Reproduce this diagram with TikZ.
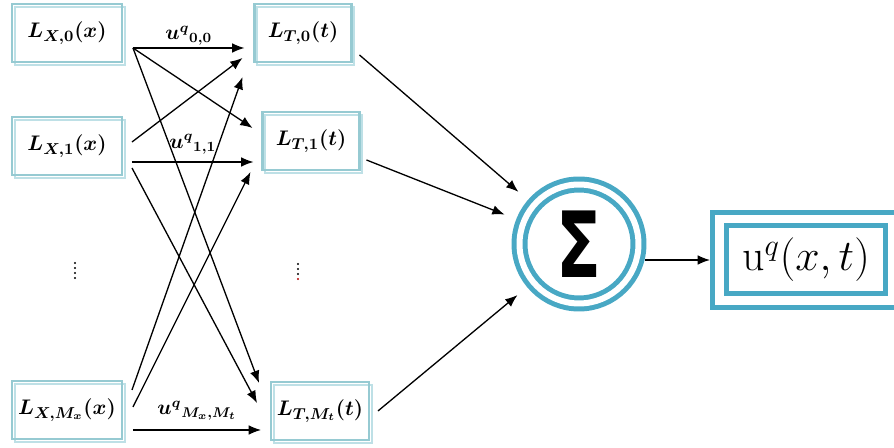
\documentclass[tikz,border=0pt]{standalone}
\usepackage{fontspec}
\usepackage{amsmath}
\usetikzlibrary{arrows.meta, calc}
\newfontfamily\sigmafont{DejaVu Sans}

\definecolor{boxedge}{RGB}{150,202,210}
\definecolor{boxshade}{RGB}{190,224,230}
\definecolor{ringblue}{RGB}{72,168,196}

\tikzstyle{basis} = [rectangle, minimum height=1.16cm, text centered, draw=boxedge, line width=1.2pt, outer sep=0pt, font=\boldmath\fontsize{13}{15}\selectfont, preaction={draw=boxshade, line width=1.2pt, transform canvas={shift={(1.6pt,-1.6pt)}}}]
\tikzstyle{xbasis} = [basis, minimum width=2.2cm]
\tikzstyle{tbasis} = [basis, minimum width=1.94cm]
\tikzstyle{arrow} = [line width=0.75pt, -{Latex[length=7pt, width=5.5pt]}]
\tikzstyle{weight} = [font=\boldmath\large, inner sep=1pt]

\begin{document}
\begin{tikzpicture}[x=0.02cm, y=-0.02cm]
\useasboundingbox (0,0) rectangle (894,448);
\clip (0,0) rectangle (894,448);

% basis functions in x
\node (lx0) [xbasis] at (67,33) {$L_{X,0}(x)$};
\node (lx1) [xbasis] at (67,146) {$L_{X,1}(x)$};
\node (lxm) [xbasis] at (67,410) {$L_{X,M_x}(x)$};

% basis functions in t
\node (lt0) [tbasis] at (303,33) {$L_{T,0}(t)$};
\node (lt1) [tbasis] at (311,141) {$L_{T,1}(t)$};
\node (ltm) [tbasis] at (320,411) {$L_{T,M_t}(t)$};

% summation and result
\node (sum) [circle, draw=ringblue, line width=0.1cm, double=white, double distance=0.12cm, minimum size=2.38cm, inner sep=0pt, outer sep=0.41cm] at (579,244) {\sigmafont\bfseries\fontsize{52}{52}\selectfont\scalebox{0.72}[1]{Σ}};
\node (uout) [rectangle, draw=ringblue, line width=0.1cm, double=white, double distance=0.18cm, minimum width=3.46cm, minimum height=1.64cm, inner sep=0pt, outer sep=0.19cm] at (806,260) {\fontsize{25}{30}\selectfont $\mathrm{u}^{q}(x,t)$};

% dots between the rows
\foreach \y in {263,268,273,278} \fill (75,\y) circle (1.1);
\foreach \y in {264,269,274} \fill (298,\y) circle (1.1);
\fill[red!70!black] (298,279) circle (1.2);

% weights x -> t
\draw [arrow] ($(lx0.east)+(11,15)$) -- node[weight, above] {${u^{q}}_{0,0}$} ($(lt0.west)+(-10,15)$);
\draw [arrow] ($(lx0.east)+(11,15)$) -- ($(lt1.west)+(-10,-13)$);
\draw [arrow] ($(lx0.east)+(11,15)$) -- ($(ltm.west)+(-12,-28)$);
\draw [arrow] ($(lx1.east)+(10,-4)$) -- ($(lt0.west)+(-12,25)$);
\draw [arrow] ($(lx1.east)+(10,16)$) -- node[weight, above=3pt] {${u^{q}}_{1,1}$} ($(lt1.west)+(-9,21)$);
\draw [arrow] ($(lx1.east)+(10,22)$) -- ($(ltm.west)+(-14,-8)$);
\draw [arrow] ($(lxm.east)+(10,-20)$) -- ($(lt0.west)+(-12,44)$);
\draw [arrow] ($(lxm.east)+(11,-3)$) -- ($(lt1.west)+(-12,31)$);
\draw [arrow] ($(lxm.east)+(11,20)$) -- node[weight, above=4pt] {${u^{q}}_{M_x,M_t}$} ($(ltm.west)+(-10,19)$);

% into the sum and out
\draw [arrow] ($(lt0.east)+(8,22)$) -- (sum);
\draw [arrow] ($(lt1.east)+(7,19)$) -- (sum);
\draw [arrow] ($(ltm.east)+(9,0)$) -- (sum);
\draw [arrow] ($(sum.center |- uout.west)+(66,0)$) -- (uout.west);

\end{tikzpicture}
\end{document}
